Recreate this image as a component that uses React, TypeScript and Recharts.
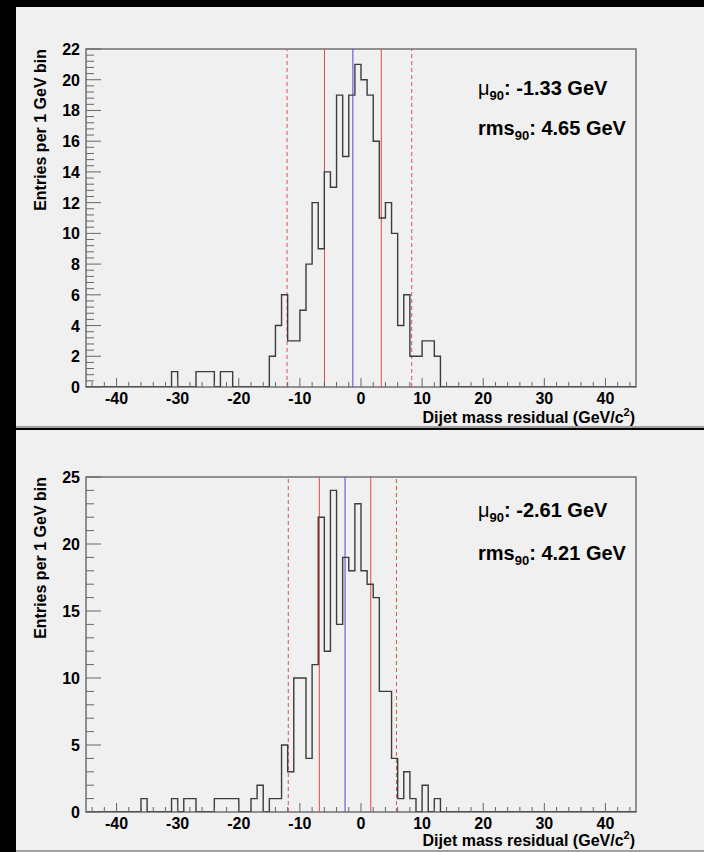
import {
  ComposedChart,
  Line,
  ReferenceArea,
  ReferenceLine,
  XAxis,
  YAxis,
} from "recharts";

// non-empty 1 GeV bins: low edge (GeV) and entries
const topBins = [
  -31, -27, -26, -25, -23, -22, -15, -14, -13, -12, -11, -10, -9, -8, -7, -6, -5, -4, -3, -2,
  -1, 0, 1, 2, 3, 4, 5, 6, 7, 8, 9, 10, 11, 12,
];
const topCounts = [
  1, 1, 1, 1, 1, 1, 2, 4, 6, 3, 3, 5, 8, 12, 9, 14, 13, 19, 15, 19, 21, 20, 19, 16, 11, 12, 10,
  4, 6, 2, 2, 3, 3, 2,
];

const bottomBins = [
  -36, -31, -29, -28, -24, -23, -22, -21, -18, -17, -15, -14, -13, -12, -11, -10, -9, -8, -7,
  -6, -5, -4, -3, -2, -1, 0, 1, 2, 3, 4, 5, 6, 7, 8, 10, 12,
];
const bottomCounts = [
  1, 1, 1, 1, 1, 1, 1, 1, 1, 2, 1, 1, 5, 3, 10, 10, 4, 11, 22, 12, 24, 14, 19, 18, 23, 18, 17,
  16, 9, 9, 4, 1, 3, 1, 2, 1,
];

// mean, mean ± rms and the outer (dashed) limits
const topMean = -1.33;
const topRms = 4.65;
const topOuter = [-12.1, 8.3];
const bottomMean = -2.61;
const bottomRms = 4.21;
const bottomOuter = [-11.9, 5.8];

const xLabels = [-40, -30, -20, -10, 0, 10, 20, 30, 40];
const topYLabels = [0, 2, 4, 6, 8, 10, 12, 14, 16, 18, 20, 22];
const bottomYLabels = [0, 5, 10, 15, 20, 25];

const FONT = "'Liberation Sans', Arial, Helvetica, sans-serif";
const BG = "#f0f0f0";
const AXIS = "#666";

function buildTable(bins: number[], counts: number[]) {
  const rows: { x: number; n: number }[] = [];
  for (let x = -45; x <= 45; x++) {
    const i = bins.indexOf(x === 45 ? 44 : x);
    rows.push({ x, n: i >= 0 ? counts[i] : 0 });
  }
  return rows;
}

function minorTicks(max: number, step: number) {
  const out: number[] = [];
  for (let i = 0; i * step <= max + 1e-9; i++) out.push(Math.round(i * step * 100) / 100);
  return out;
}

const xTicks = minorTicks(88, 2).map((v) => v - 44);

function XTick(props: any) {
  const { x, y, payload } = props;
  const v = payload.value as number;
  const major = xLabels.includes(v);
  return (
    <g>
      <line x1={x} x2={x} y1={y} y2={y - (major ? 9 : 5)} stroke={AXIS} />
      {major && (
        <text x={x} y={y + 17} textAnchor="middle" fontSize={16} fontWeight="bold" fill="#000" fontFamily={FONT}>
          {v}
        </text>
      )}
    </g>
  );
}

function makeYTick(labels: number[]) {
  return function YTick(props: any) {
    const { x, y, payload } = props;
    const v = payload.value as number;
    const major = labels.some((l) => Math.abs(l - v) < 1e-6);
    return (
      <g>
        <line x1={x} x2={x + (major ? 15 : 8)} y1={y} y2={y} stroke={AXIS} />
        {major && (
          <text x={x - 6} y={y + 6} textAnchor="end" fontSize={16} fontWeight="bold" fill="#000" fontFamily={FONT}>
            {v}
          </text>
        )}
      </g>
    );
  };
}

type PanelProps = {
  top: number;
  height: number;
  marginTop: number;
  plotHeight: number;
  yMax: number;
  yLabels: number[];
  yStep: number;
  bins: number[];
  counts: number[];
  mean: number;
  rms: number;
  outer: number[];
};

function Panel(p: PanelProps) {
  const data = buildTable(p.bins, p.counts);
  const YTick = makeYTick(p.yLabels);
  return (
    <div
      style={{
        position: "absolute",
        left: 16,
        top: p.top,
        width: 688,
        height: p.height,
        background: BG,
        boxSizing: "border-box",
        borderBottom: "2px solid #a0a0a0",
      }}
    >
      <ComposedChart
        width={688}
        height={p.height}
        data={data}
        margin={{ top: p.marginTop, right: 68, bottom: 0, left: 0 }}
      >
        <XAxis
          dataKey="x"
          type="number"
          domain={[-45, 45]}
          ticks={xTicks}
          interval={0}
          tickSize={0}
          tickMargin={0}
          axisLine={false}
          tickLine={false}
          tick={XTick}
          height={p.height - p.marginTop - p.plotHeight}
          allowDataOverflow
        />
        <YAxis
          type="number"
          domain={[0, p.yMax]}
          ticks={minorTicks(p.yMax, p.yStep)}
          interval={0}
          tickSize={0}
          tickMargin={0}
          axisLine={false}
          tickLine={false}
          tick={YTick}
          width={70}
          allowDataOverflow
        />
        <ReferenceLine x={p.outer[0]} stroke="#e05050" strokeDasharray="4 3" />
        <ReferenceLine x={p.outer[1]} stroke="#e05050" strokeDasharray="4 3" />
        <ReferenceLine x={p.mean - p.rms} stroke="#e04848" />
        <ReferenceLine x={p.mean + p.rms} stroke="#e04848" />
        <ReferenceLine x={p.mean} stroke="#4a4ad8" />
        <Line
          dataKey="n"
          type="stepAfter"
          stroke="#3c3c3c"
          strokeWidth={1.4}
          dot={false}
          isAnimationActive={false}
        />
        <ReferenceArea x1={-45} x2={45} y1={0} y2={p.yMax} fill="none" stroke="#707070" strokeWidth={1.5} />
      </ComposedChart>
    </div>
  );
}

function Texts({ yTop, xBase, muBase, rmsBase, mu, rms }: { yTop: number; xBase: number; muBase: number; rmsBase: number; mu: string; rms: string }) {
  return (
    <g fontFamily={FONT} fontWeight="bold" fill="#000">
      <text x={46} y={yTop} fontSize={16} textAnchor="end" transform={`rotate(-90 46 ${yTop})`}>
        Entries per 1 GeV bin
      </text>
      <text x={635} y={xBase} fontSize={16} textAnchor="end">
        Dijet mass residual (GeV/c
        <tspan fontSize={11} dy={-7}>2</tspan>
        <tspan dy={7}>)</tspan>
      </text>
      <text x={478} y={muBase} fontSize={20}>
        <tspan fontWeight="normal">μ</tspan>
        <tspan fontSize={13} dy={5}>90</tspan>
        <tspan dy={-5}>: {mu} GeV</tspan>
      </text>
      <text x={478} y={rmsBase} fontSize={20}>
        rms
        <tspan fontSize={13} dy={5}>90</tspan>
        <tspan dy={-5}>: {rms} GeV</tspan>
      </text>
    </g>
  );
}

export default function App() {
  return (
    <div style={{ position: "absolute", left: 0, top: 0, width: 704, height: 852, background: "#000", overflow: "hidden" }}>
      <Panel
        top={7}
        height={421}
        marginTop={42}
        plotHeight={338}
        yMax={22}
        yLabels={topYLabels}
        yStep={0.4}
        bins={topBins}
        counts={topCounts}
        mean={topMean}
        rms={topRms}
        outer={topOuter}
      />
      <Panel
        top={430}
        height={422}
        marginTop={47}
        plotHeight={335}
        yMax={25}
        yLabels={bottomYLabels}
        yStep={1}
        bins={bottomBins}
        counts={bottomCounts}
        mean={bottomMean}
        rms={bottomRms}
        outer={bottomOuter}
      />
      <svg width={704} height={852} style={{ position: "absolute", left: 0, top: 0, pointerEvents: "none" }}>
        <Texts yTop={49} xBase={423} muBase={95} rmsBase={135} mu="-1.33" rms="4.65" />
        <Texts yTop={477} xBase={846} muBase={517} rmsBase={560} mu="-2.61" rms="4.21" />
      </svg>
    </div>
  );
}
